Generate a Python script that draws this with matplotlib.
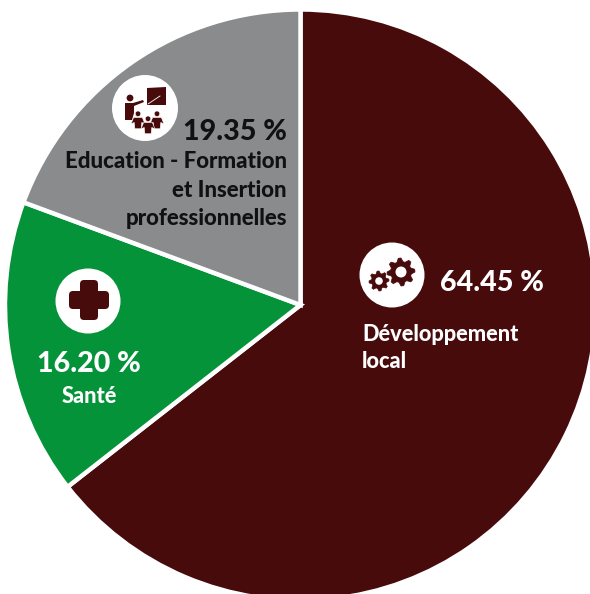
import numpy as np
import matplotlib
matplotlib.use('Agg')
import matplotlib.pyplot as plt
from matplotlib.patches import Circle, FancyBboxPatch, Polygon

labels = ['Développement\nlocal', 'Santé', 'Education - Formation\net Insertion \nprofessionnelles']
shares = [64.45, 16.20, 19.35]
colors = ['#470b0c', '#05933a', '#8a8b8d']

MAROON = '#470b0c'
FONT = 'Lato'
WEIGHT = 900
H = 594


def py(y):
    # work in pixels from the top left corner
    return H - y


def gear(ax, x, y, r_out, r_in, r_hole, teeth):
    angles = np.linspace(0, 2 * np.pi, teeth * 4, endpoint=False)
    radii = np.tile([r_out, r_out, r_in, r_in], teeth)
    pts = np.column_stack([x + radii * np.cos(angles), py(y) + radii * np.sin(angles)])
    ax.add_patch(Polygon(pts, closed=True, fc=MAROON, ec=MAROON, lw=0.5, zorder=4))
    ax.add_patch(Circle((x, py(y)), r_hole, fc='white', ec='none', zorder=5))


def person(ax, x, y, s=1.0):
    # small seated figure: head plus shoulders
    ax.add_patch(Circle((x, py(y - 5 * s)), 2.2 * s, fc=MAROON, ec='white', lw=0.4, zorder=5))
    body = [(x - 5.5 * s, py(y + 3 * s)), (x - 3.5 * s, py(y - 2 * s)), (x + 3.5 * s, py(y - 2 * s)),
            (x + 5.5 * s, py(y + 3 * s)), (x + 3 * s, py(y + 2 * s)), (x + 2.5 * s, py(y + 7 * s)),
            (x - 2.5 * s, py(y + 7 * s)), (x - 3 * s, py(y + 2 * s))]
    ax.add_patch(Polygon(body, closed=True, fc=MAROON, ec='white', lw=0.4, zorder=5))


fig = plt.figure(figsize=(5.90, 5.94), dpi=100)
ax = fig.add_axes([0, 0, 1, 1])

ax.pie(shares, colors=colors, startangle=90, counterclock=False,
       center=(300.5, py(305)), radius=295.5,
       wedgeprops={'edgecolor': 'white', 'linewidth': 3.2})
ax.set_xlim(0, 590)
ax.set_ylim(0, H)
ax.set_aspect('equal')
ax.axis('off')

# icon discs
for cx, cy, r in [(392, 275, 32.5), (88, 301, 32.5), (145, 108, 33)]:
    ax.add_patch(Circle((cx, py(cy)), r, fc='white', ec='none', zorder=3))

# gears
gear(ax, 401, 272, 14, 10.5, 5.5, 8)
gear(ax, 379, 281, 10, 7.5, 3.8, 8)

# cross
ax.add_patch(FancyBboxPatch((89 - 5, py(300) - 16), 10, 32, boxstyle='round,pad=4',
                            fc=MAROON, ec='none', zorder=4))
ax.add_patch(FancyBboxPatch((89 - 16, py(300) - 5), 32, 10, boxstyle='round,pad=4',
                            fc=MAROON, ec='none', zorder=4))

# teacher and board
ax.add_patch(Polygon([(147, py(88)), (166, py(87)), (166, py(105)), (147, py(105))],
                     closed=True, fc=MAROON, ec='none', zorder=4))
ax.plot([148, 160], [py(104), py(96)], color='white', lw=0.6, zorder=5)
ax.add_patch(Circle((130, py(98)), 3.4, fc=MAROON, ec='none', zorder=4))
teacher = [(125, py(103)), (133, py(103)), (143, py(100)), (144, py(102)), (134, py(106)),
           (134, py(113)), (132, py(120)), (125, py(120))]
ax.add_patch(Polygon(teacher, closed=True, fc=MAROON, ec='none', zorder=4))
person(ax, 138, 120, 1.25)
person(ax, 157, 120, 1.25)
person(ax, 148, 125, 1.25)

# value labels, figures taken from the series
ax.text(440, py(291), f'{shares[0]:.2f} %', color='white', fontsize=20.6, fontweight=WEIGHT,
        family=FONT, ha='left', va='baseline')
ax.text(89, py(372), f'{shares[1]:.2f} %', color='white', fontsize=20.6, fontweight=WEIGHT,
        family=FONT, ha='center', va='baseline')
ax.text(287, py(140), f'{shares[2]:.2f} %', color='#111111', fontsize=20.6, fontweight=WEIGHT,
        family=FONT, ha='right', va='baseline')

# category labels
for line, y in zip(labels[0].split('\n'), [341, 368]):
    ax.text(362, py(y), line, color='white', fontsize=15.7, fontweight=WEIGHT,
            family=FONT, ha='left', va='baseline')
ax.text(89, py(403), labels[1], color='white', fontsize=15.7, fontweight=WEIGHT,
        family=FONT, ha='center', va='baseline')
for line, y in zip(labels[2].split('\n'), [168, 197, 225]):
    ax.text(287, py(y), line.strip(), color='#111111', fontsize=16, fontweight=WEIGHT,
            family=FONT, ha='right', va='baseline')

fig.savefig('out.png', dpi=100, facecolor='white')
